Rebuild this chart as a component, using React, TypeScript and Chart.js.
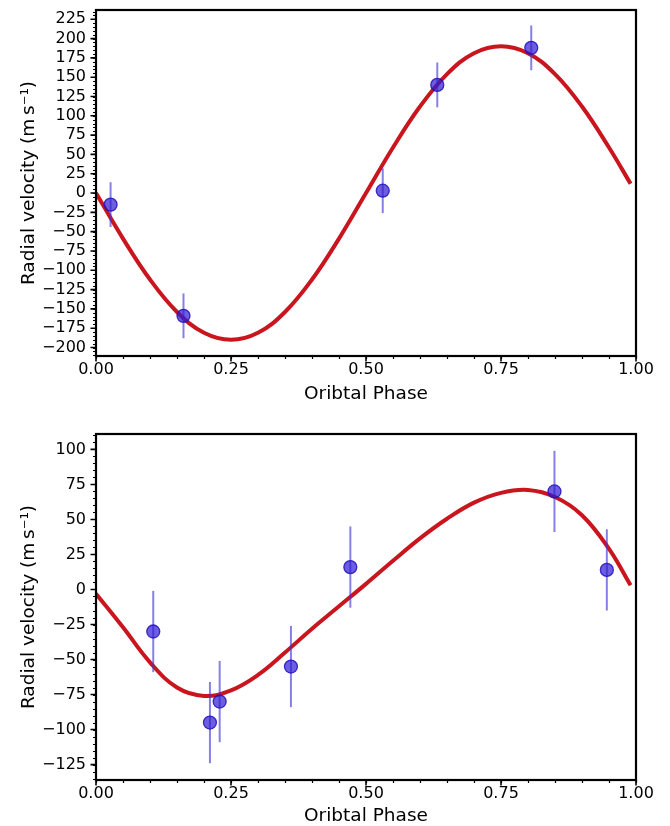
import React, { useEffect, useRef } from 'react';
import { Chart, registerables } from 'chart.js';

Chart.register(...registerables);

// ---- Data ----
const TOP_PHASE = [0.027, 0.162, 0.531, 0.632, 0.806];
const TOP_RV = [-15, -159, 3, 140, 188];
const TOP_ERR = [29, 29, 29, 29, 29];

const BOTTOM_PHASE = [0.106, 0.211, 0.229, 0.361, 0.471, 0.849, 0.946];
const BOTTOM_RV = [-30, -95, -80, -55, 16, 70, 14];
const BOTTOM_ERR = [29, 29, 29, 29, 29, 29, 29];

// model curves
const MODEL_PHASE = [0, 0.05, 0.1, 0.15, 0.2, 0.25, 0.3, 0.35, 0.4, 0.45, 0.5, 0.55, 0.6, 0.65, 0.7, 0.75, 0.8, 0.85, 0.9, 0.95, 0.99];
const TOP_MODEL = [0, -59, -112, -154, -181, -190, -181, -154, -112, -59, 0, 59, 112, 154, 181, 190, 181, 154, 112, 59, 12];
const BOTTOM_MODEL = [-3, -27, -52, -70, -76, -72, -61, -45, -28, -12, 4, 20.5, 36.5, 50.5, 62, 69, 71, 66, 53, 29, 3];

const X_TICKS = [0, 0.25, 0.5, 0.75, 1];
const TOP_Y_TICKS = [-200, -175, -150, -125, -100, -75, -50, -25, 0, 25, 50, 75, 100, 125, 150, 175, 200, 225];
const BOTTOM_Y_TICKS = [-125, -100, -75, -50, -25, 0, 25, 50, 75, 100];

const X_LABEL = 'Oribtal Phase';
const Y_LABEL = 'Radial velocity (m\u2009s\u207B\u00B9)';

const FONT = 'DejaVu Sans';
const W = 670;
const H = 413;

type Panel = {
  phase: number[];
  rv: number[];
  err: number[];
  model: number[];
  yMin: number;
  yMax: number;
  yTicks: number[];
  areaTop: number;
  areaBottom: number;
  xTitlePad: number;
};

const fmtY = (v: number) => (v < 0 ? '\u2212' + Math.abs(v) : String(v));

const decorPlugin = {
  id: 'decor',
  beforeDatasetDraw(chart: any, args: any) {
    if (args.index !== 0) return;
    const errs: number[] = chart.options.plugins.decor.err;
    const ds = chart.data.datasets[0];
    const xs = chart.scales.x;
    const ys = chart.scales.y;
    const ctx = chart.ctx;
    ctx.save();
    ctx.strokeStyle = 'rgba(60, 50, 215, 0.62)';
    ctx.lineWidth = 2;
    ds.data.forEach((p: any, i: number) => {
      const px = xs.getPixelForValue(p.x);
      ctx.beginPath();
      ctx.moveTo(px, ys.getPixelForValue(p.y - errs[i]));
      ctx.lineTo(px, ys.getPixelForValue(p.y + errs[i]));
      ctx.stroke();
    });
    ctx.restore();
  },
  afterDraw(chart: any) {
    const { ctx, chartArea } = chart;
    const xs = chart.scales.x;
    const ys = chart.scales.y;
    const { left, right, top, bottom } = chartArea;
    ctx.save();
    ctx.strokeStyle = '#000';
    // minor ticks
    ctx.lineWidth = 1.2;
    ctx.beginPath();
    const yStep = 5;
    for (let v = Math.ceil(ys.min / yStep) * yStep; v <= ys.max; v += yStep) {
      const py = Math.round(ys.getPixelForValue(v)) + 0.5;
      ctx.moveTo(left, py);
      ctx.lineTo(left - 3, py);
    }
    for (let k = 0; k <= 20; k++) {
      const px = Math.round(xs.getPixelForValue(k * 0.05)) + 0.5;
      ctx.moveTo(px, bottom);
      ctx.lineTo(px, bottom + 3);
    }
    ctx.stroke();
    // major ticks
    ctx.lineWidth = 1.6;
    ctx.beginPath();
    ys.ticks.forEach((t: any) => {
      const py = ys.getPixelForValue(t.value);
      ctx.moveTo(left, py);
      ctx.lineTo(left - 5.5, py);
    });
    xs.ticks.forEach((t: any) => {
      const px = xs.getPixelForValue(t.value);
      ctx.moveTo(px, bottom);
      ctx.lineTo(px, bottom + 5.5);
    });
    ctx.stroke();
    // frame
    ctx.lineWidth = 2.2;
    ctx.strokeRect(left, top, right - left, bottom - top);
    ctx.restore();
  },
};

function makeConfig(p: Panel): any {
  return {
    type: 'scatter',
    data: {
      datasets: [
        {
          data: p.phase.map((x, i) => ({ x, y: p.rv[i] })),
          pointRadius: 6.5,
          pointBackgroundColor: 'rgba(45, 25, 210, 0.7)',
          pointBorderColor: 'rgba(35, 15, 190, 0.85)',
          pointBorderWidth: 1.3,
          showLine: false,
        },
        {
          data: MODEL_PHASE.map((x, i) => ({ x, y: p.model[i] })),
          showLine: true,
          pointRadius: 0,
          borderColor: '#c9161e',
          borderWidth: 4,
          tension: 0.4,
          fill: false,
        },
      ],
    },
    options: {
      responsive: false,
      animation: false,
      events: [],
      layout: { padding: { left: 0, right: 34, top: p.areaTop, bottom: 0 } },
      plugins: {
        legend: { display: false },
        tooltip: { enabled: false },
        decor: { err: p.err },
      },
      scales: {
        x: {
          type: 'linear',
          min: 0,
          max: 1,
          afterBuildTicks: (s: any) => {
            s.ticks = X_TICKS.map((v) => ({ value: v }));
          },
          afterFit: (s: any) => {
            s.height = H - p.areaBottom;
            s.paddingLeft = 0;
            s.paddingRight = 0;
          },
          grid: { display: false, drawTicks: false },
          border: { display: false },
          ticks: {
            autoSkip: false,
            maxRotation: 0,
            padding: 4,
            color: '#000',
            font: { family: FONT, size: 16 },
            callback: (v: number) => Number(v).toFixed(2),
          },
          title: {
            display: true,
            text: X_LABEL,
            color: '#000',
            font: { family: FONT, size: 18.5 },
            padding: { top: 0, bottom: p.xTitlePad },
          },
        },
        y: {
          type: 'linear',
          min: p.yMin,
          max: p.yMax,
          afterBuildTicks: (s: any) => {
            s.ticks = p.yTicks.map((v) => ({ value: v }));
          },
          afterFit: (s: any) => {
            s.width = 96;
            s.paddingTop = 0;
            s.paddingBottom = 0;
          },
          grid: { display: false, drawTicks: false },
          border: { display: false },
          ticks: {
            autoSkip: false,
            padding: 10,
            color: '#000',
            font: { family: FONT, size: 16 },
            callback: (v: number) => fmtY(Number(v)),
          },
          title: {
            display: true,
            text: Y_LABEL,
            color: '#000',
            font: { family: FONT, size: 18.5 },
            padding: { top: 18, bottom: 0 },
          },
        },
      },
    },
    plugins: [decorPlugin],
  };
}

function RVChart({ panel }: { panel: Panel }) {
  const ref = useRef<HTMLCanvasElement | null>(null);
  useEffect(() => {
    if (!ref.current) return;
    const chart = new Chart(ref.current, makeConfig(panel));
    return () => chart.destroy();
  }, [panel]);
  return <canvas ref={ref} width={W} height={H} style={{ display: 'block', width: W, height: H }} />;
}

const TOP_PANEL: Panel = {
  phase: TOP_PHASE,
  rv: TOP_RV,
  err: TOP_ERR,
  model: TOP_MODEL,
  yMin: -211,
  yMax: 237,
  yTicks: TOP_Y_TICKS,
  areaTop: 10,
  areaBottom: 356,
  xTitlePad: 8,
};

const BOTTOM_PANEL: Panel = {
  phase: BOTTOM_PHASE,
  rv: BOTTOM_RV,
  err: BOTTOM_ERR,
  model: BOTTOM_MODEL,
  yMin: -136,
  yMax: 111,
  yTicks: BOTTOM_Y_TICKS,
  areaTop: 21,
  areaBottom: 367,
  xTitlePad: -1.5,
};

export default function App() {
  return (
    <div style={{ position: 'absolute', left: 0, top: 0, width: W, height: 826, background: '#fff' }}>
      <div style={{ position: 'absolute', left: 0, top: 0 }}>
        <RVChart panel={TOP_PANEL} />
      </div>
      <div style={{ position: 'absolute', left: 0, top: H }}>
        <RVChart panel={BOTTOM_PANEL} />
      </div>
    </div>
  );
}
